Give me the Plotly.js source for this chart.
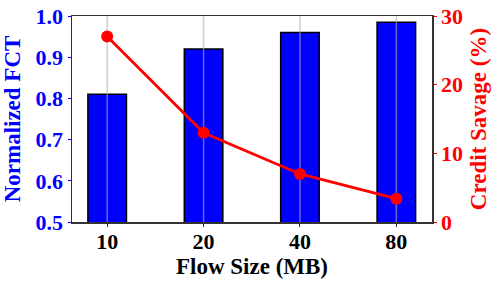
<!DOCTYPE html>
<html>
<head>
<meta charset="utf-8">
<script src="https://cdn.plot.ly/plotly-3.0.1.min.js"></script>
<style>html,body{margin:0;padding:0;background:#fff;}#chart{width:498px;height:285px;}</style>
</head>
<body>
<div id="chart"></div>
<script>
// Data
var flowSizes = ["10", "20", "40", "80"];
var normalizedFCT = [0.81, 0.92, 0.96, 0.985];
var creditSavage = [27, 13, 7, 3.4];
var fctTicks = [0.5, 0.6, 0.7, 0.8, 0.9, 1.0];
var savageTicks = [0, 10, 20, 30];

var fctRange = [fctTicks[0], fctTicks[fctTicks.length - 1]];
var savageRange = [savageTicks[0], savageTicks[savageTicks.length - 1]];

var FONT = "Liberation Serif, Times New Roman, serif";

// vertical gridlines drawn between bars and the red line
var gx = [], gy = [];
flowSizes.forEach(function (c) {
  gx.push(c, c, c);
  gy.push(fctRange[0], fctRange[1], null);
});

var traces = [
  {
    type: "bar",
    x: flowSizes,
    y: normalizedFCT,
    width: 0.4,
    marker: { color: "#0000ff", line: { color: "#000", width: 1.5 } },
    hoverinfo: "skip",
    showlegend: false
  },
  {
    type: "scatter",
    mode: "lines",
    x: gx,
    y: gy,
    line: { color: "rgba(175,175,175,0.6)", width: 1.5 },
    connectgaps: false,
    hoverinfo: "skip",
    showlegend: false
  },
  {
    type: "scatter",
    mode: "lines+markers",
    x: flowSizes,
    y: creditSavage,
    yaxis: "y2",
    line: { color: "#ff0000", width: 2.8 },
    marker: { color: "#ff0000", size: 12 },
    cliponaxis: false,
    showlegend: false
  }
];

var layout = {
  width: 498,
  height: 285,
  margin: { l: 72, r: 66, t: 16, b: 63 },
  paper_bgcolor: "#fff",
  plot_bgcolor: "#fff",
  showlegend: false,
  font: { family: FONT, weight: "bold" },
  xaxis: {
    type: "category",
    range: [-0.365, 3.37],
    showgrid: false,
    showline: true,
    mirror: true,
    linecolor: "#333",
    linewidth: 1.5,
    ticks: "outside",
    ticklen: 3,
    tickcolor: "#333",
    ticklabelstandoff: -4,
    tickfont: { family: FONT, size: 22, color: "#000", weight: "bold" },
    title: { text: "Flow Size (MB)", font: { family: FONT, size: 23, color: "#000", weight: "bold" }, standoff: 2 },
    fixedrange: true
  },
  yaxis: {
    range: fctRange,
    tickvals: fctTicks,
    tickformat: ".1f",
    showgrid: false,
    zeroline: false,
    showline: true,
    linecolor: "#333",
    linewidth: 1.5,
    ticks: "outside",
    ticklen: 3,
    tickcolor: "#0000ff",
    tickfont: { family: FONT, size: 22, color: "#0000ff", weight: "bold" },
    title: { text: "Normalized FCT", font: { family: FONT, size: 23, color: "#0000ff", weight: "bold" }, standoff: 8 },
    fixedrange: true
  },
  yaxis2: {
    overlaying: "y",
    side: "right",
    range: savageRange,
    tickvals: savageTicks,
    showgrid: false,
    zeroline: false,
    showline: true,
    linecolor: "#333",
    linewidth: 1.5,
    ticks: "outside",
    ticklen: 3,
    tickcolor: "#ff0000",
    tickfont: { family: FONT, size: 22, color: "#ff0000", weight: "bold" },
    title: { text: "Credit Savage (%)", font: { family: FONT, size: 23, color: "#ff0000", weight: "bold" }, standoff: 8 },
    fixedrange: true
  }
};

Plotly.newPlot("chart", traces, layout, { staticPlot: true, displayModeBar: false });
</script>
</body>
</html>
